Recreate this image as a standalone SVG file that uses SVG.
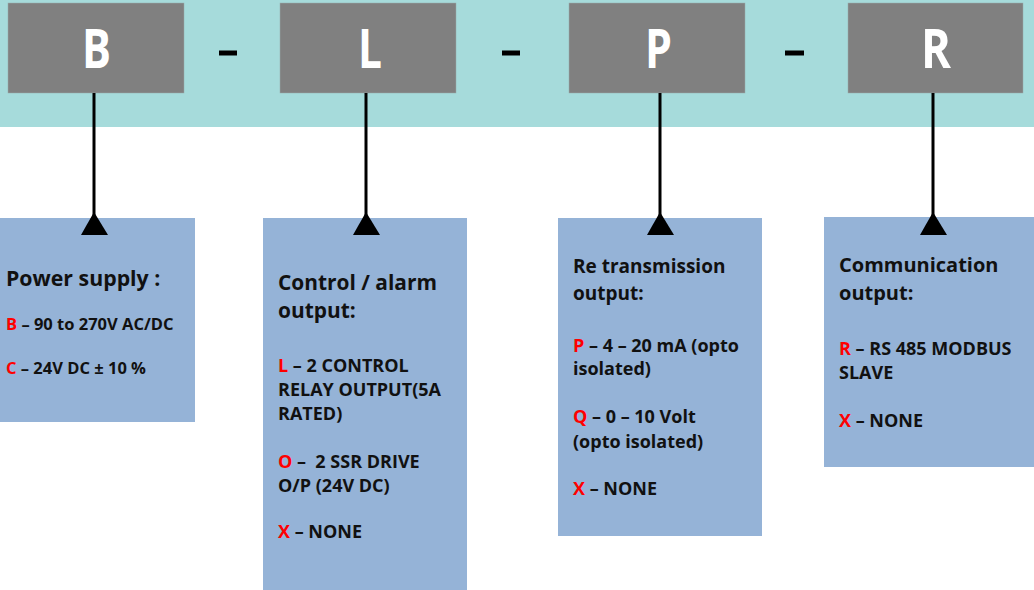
<svg xmlns="http://www.w3.org/2000/svg" width="1034" height="590" viewBox="0 0 1034 590">
<defs>
<style>
.code{fill:#808080;stroke:#9aa;stroke-width:0.5}
.codet{font-family:"Open Sans","Liberation Sans",sans-serif;font-weight:700;font-size:53px;fill:#fff}
.dash{stroke:#000;stroke-width:5}
.box{fill:#95b3d7}
.t{font-family:"Open Sans","Liberation Sans",sans-serif;font-weight:700;fill:#111}
.h{font-size:20px}
.s{font-size:18px}
.s1{font-size:16.5px}
.r{fill:#ff0000}
.conn{stroke:#000;stroke-width:3;fill:none}
</style>
</defs>
<rect x="0" y="0" width="1034" height="127" fill="#a6dbdb"/>
<g id="code-B"><rect class="code" x="8" y="3" width="176" height="90"/><text class="codet" x="82" y="68" textLength="29" lengthAdjust="spacingAndGlyphs">B</text></g>
<g id="code-L"><rect class="code" x="280" y="3" width="176" height="90"/><text class="codet" x="358" y="68" textLength="24" lengthAdjust="spacingAndGlyphs">L</text></g>
<g id="code-P"><rect class="code" x="569" y="3" width="176" height="90"/><text class="codet" x="645" y="68" textLength="27" lengthAdjust="spacingAndGlyphs">P</text></g>
<g id="code-R"><rect class="code" x="848" y="3" width="175" height="90"/><text class="codet" x="921" y="68" textLength="30" lengthAdjust="spacingAndGlyphs">R</text></g>
<g id="dashes">
<line class="dash" x1="219" y1="53" x2="237" y2="53"/>
<line class="dash" x1="502" y1="53" x2="520" y2="53"/>
<line class="dash" x1="785" y1="53" x2="804" y2="53"/>
</g>
<g id="box-power"><rect class="box" x="0" y="218" width="195" height="204"/>
<text class="t h" x="6" y="286" style="font-size:21.3px">Power supply :</text>
<text class="t s1" x="6" y="330"><tspan class="r">B</tspan> – 90 to 270V AC/DC</text>
<text class="t s1" x="6" y="374"><tspan class="r">C</tspan> – 24V DC ± 10 %</text>
</g>
<g id="box-control"><rect class="box" x="263" y="218" width="204" height="372"/>
<text class="t h" x="278" y="290" style="font-size:20.9px">Control / alarm</text>
<text class="t h" x="278" y="318" style="font-size:20.9px">output:</text>
<text class="t s" x="278" y="372"><tspan class="r">L</tspan> – 2 CONTROL</text>
<text class="t s" x="278" y="396">RELAY OUTPUT(5A</text>
<text class="t s" x="278" y="420">RATED)</text>
<text class="t s" x="278" y="468" xml:space="preserve"><tspan class="r">O</tspan> –  2 SSR DRIVE</text>
<text class="t s" x="278" y="492">O/P (24V DC)</text>
<text class="t s" x="278" y="538"><tspan class="r">X</tspan> – NONE</text>
</g>
<g id="box-retrans"><rect class="box" x="558" y="218" width="204" height="318"/>
<text class="t h" x="573" y="273" style="font-size:19px">Re transmission</text>
<text class="t h" x="573" y="300" style="font-size:19px">output:</text>
<text class="t s" x="573" y="352"><tspan class="r">P</tspan> – 4 – 20 mA (opto</text>
<text class="t s" x="573" y="375">isolated)</text>
<text class="t s" x="573" y="423"><tspan class="r">Q</tspan> – 0 – 10 Volt</text>
<text class="t s" x="573" y="448">(opto isolated)</text>
<text class="t s" x="573" y="495"><tspan class="r">X</tspan> – NONE</text>
</g>
<g id="box-comm"><rect class="box" x="824" y="217" width="210" height="250"/>
<text class="t h" x="839" y="272">Communication</text>
<text class="t h" x="839" y="300">output:</text>
<text class="t s" x="839" y="355"><tspan class="r">R</tspan> – RS 485 MODBUS</text>
<text class="t s" x="839" y="379">SLAVE</text>
<text class="t s" x="839" y="427"><tspan class="r">X</tspan> – NONE</text>
</g>
<g id="connectors">
<line class="conn" x1="94" y1="93" x2="94" y2="220"/><polygon points="94,212 81,235 108,235"/>
<line class="conn" x1="366" y1="93" x2="366" y2="220"/><polygon points="366,212 353,235 380,235"/>
<line class="conn" x1="660" y1="93" x2="660" y2="220"/><polygon points="660,212 647,235 674,235"/>
<line class="conn" x1="933" y1="93" x2="933" y2="220"/><polygon points="933,212 920,235 947,235"/>
</g>
</svg>
